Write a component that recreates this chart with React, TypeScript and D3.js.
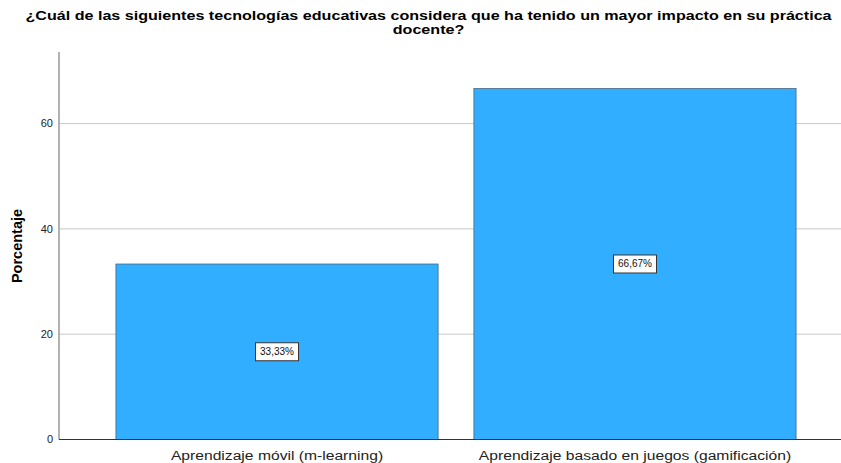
import React from "react";
import * as d3 from "d3";

const titleLines = [
  "¿Cuál de las siguientes tecnologías educativas considera que ha tenido un mayor impacto en su práctica",
  "docente?",
];
const categories = ["Aprendizaje móvil (m-learning)", "Aprendizaje basado en juegos (gamificación)"];
const values = [33.33, 66.67];
const valueLabels = ["33,33%", "66,67%"];
const yTicks = [0, 20, 40, 60];
const yLabel = "Porcentaje";

const W = 841;
const H = 463;
const FONT = "'Liberation Sans', Arial, sans-serif";
const STRETCH = 1.16;
const TITLE_STRETCH = 1.24;

export default function App() {
  const plotLeft = 59;
  const plotTop = 52;
  const baseY = 439.5;
  const y = d3.scaleLinear().domain([0, 73.6]).range([baseY, plotTop]);
  const x = d3
    .scaleBand<string>()
    .domain(categories)
    .range([plotLeft, 853])
    .paddingInner(0.1)
    .paddingOuter(0.159);

  return (
    <svg
      width={W}
      height={H}
      style={{ position: "absolute", left: 0, top: 0, background: "#fff" }}
      fontFamily={FONT}
    >
      <g transform={`translate(428.5,0) scale(${TITLE_STRETCH},1)`}>
        {titleLines.map((t, i) => (
          <text
            key={i}
            x={0}
            y={20.5 + i * 14}
            textAnchor="middle"
            fontSize={13}
            fontWeight="bold"
            fill="#000"
          >
            {t}
          </text>
        ))}
      </g>
      {yTicks.map((t) => (
        <g key={t}>
          {t > 0 && (
            <line x1={plotLeft} x2={W} y1={y(t)} y2={y(t)} stroke="#c8c8c8" strokeWidth={1} />
          )}
          <text x={53} y={y(t)} dy="0.35em" textAnchor="end" fontSize={11} fill="#222">
            {t}
          </text>
        </g>
      ))}
      <line x1={plotLeft} x2={plotLeft} y1={plotTop} y2={baseY} stroke="#999" strokeWidth={1.5} />
      {categories.map((c, i) => {
        const bx = x(c)!;
        const bw = x.bandwidth();
        const top = y(values[i]);
        const cx = bx + bw / 2;
        const cy = y(values[i] / 2);
        return (
          <g key={c}>
            <rect x={bx} y={top} width={bw} height={baseY - top} fill="#31AEFF" stroke="#4a6a80" strokeWidth={0.8} />
            <rect x={cx - 21.5} y={cy - 9} width={43} height={18} fill="#fff" stroke="#333" strokeWidth={1} />
            <text x={cx} y={cy} dy="0.35em" textAnchor="middle" fontSize={10} fill="#111">
              {valueLabels[i]}
            </text>
            <g transform={`translate(${cx},0) scale(${STRETCH},1)`}>
              <text x={0} y={460} textAnchor="middle" fontSize={13.5} fill="#222">
                {c}
              </text>
            </g>
          </g>
        );
      })}
      <line x1={plotLeft} x2={W} y1={baseY} y2={baseY} stroke="#333" strokeWidth={1} />
      <text
        transform={`translate(22,246) rotate(-90)`}
        textAnchor="middle"
        fontSize={14.5}
        fontWeight="bold"
        fill="#000"
      >
        {yLabel}
      </text>
    </svg>
  );
}
